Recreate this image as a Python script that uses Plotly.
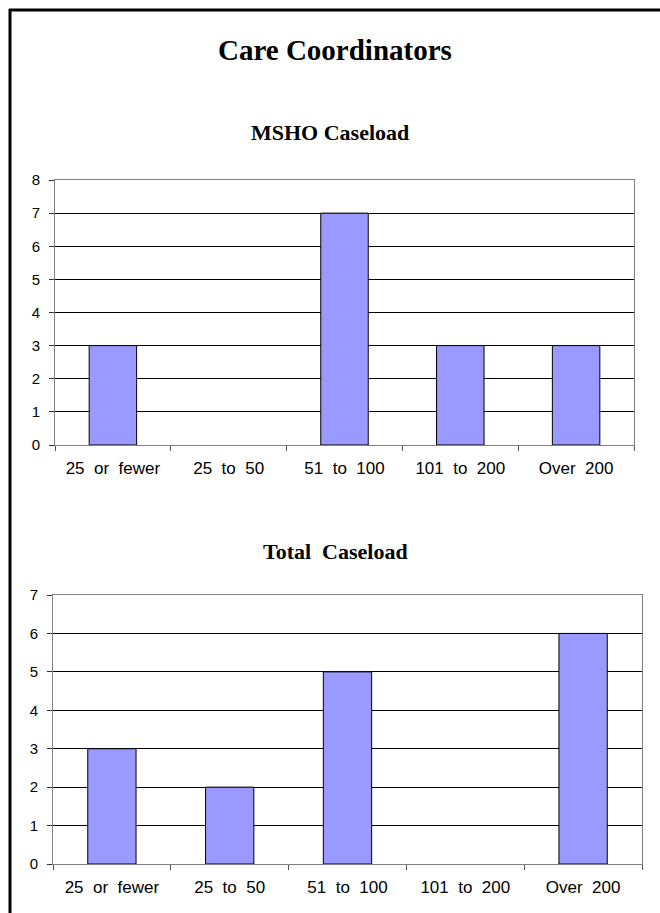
import plotly.graph_objects as go

categories = ["25 or fewer", "25 to 50", "51 to 100", "101 to 200", "Over 200"]
msho_values = [3, 0, 7, 3, 3]
total_values = [3, 2, 5, 0, 6]
msho_ticks = [0, 1, 2, 3, 4, 5, 6, 7, 8]
total_ticks = [0, 1, 2, 3, 4, 5, 6, 7]

W, H = 660, 913
NB = "\u00a0"
cat_labels = [c.replace(" ", NB + " ") for c in categories]

def px_x(p):
    return p / W

def px_y(p):
    return 1 - p / H

def bar_marker(vals):
    return dict(color="#9999FF",
                line=dict(color="#000000", width=[1 if v > 0 else 0 for v in vals]))

fig = go.Figure()
fig.add_trace(go.Bar(x=categories, y=msho_values, xaxis="x", yaxis="y",
                     marker=bar_marker(msho_values), width=0.41, hoverinfo="x+y"))
fig.add_trace(go.Bar(x=categories, y=total_values, xaxis="x2", yaxis="y2",
                     marker=bar_marker(total_values), width=0.41, hoverinfo="x+y"))

xtickfont = dict(family="Liberation Sans, Arial, sans-serif", size=17, color="#000000")
ytickfont = dict(family="Liberation Sans, Arial, sans-serif", size=15, color="#000000")

def xaxis(domain, anchor):
    return dict(domain=domain, anchor=anchor, type="category",
                categoryorder="array", categoryarray=categories,
                tickmode="array", tickvals=categories, ticktext=cat_labels,
                tickson="boundaries", ticks="outside", ticklen=5, tickcolor="#555555",
                showline=True, linecolor="#808080", linewidth=1, mirror=True,
                showgrid=False, tickfont=xtickfont, ticklabelstandoff=8,
                range=[-0.5, 4.5], fixedrange=True, automargin=False)

def yaxis(domain, anchor, rmax, tv):
    return dict(domain=domain, anchor=anchor, range=[0, rmax],
                tickmode="array", tickvals=tv, ticks="outside", ticklen=5,
                tickcolor="#333333", showline=True, linecolor="#808080", linewidth=1,
                mirror=True, showgrid=True, gridcolor="#000000", gridwidth=1,
                zeroline=False, tickfont=ytickfont, ticklabelstandoff=6,
                fixedrange=True, automargin=False)

fig.update_layout(
    width=W, height=H,
    margin=dict(l=0, r=0, t=0, b=0, pad=0, autoexpand=False),
    paper_bgcolor="#FFFFFF", plot_bgcolor="#FFFFFF",
    showlegend=False, bargap=0.59,
    xaxis=xaxis([px_x(55), px_x(634)], "y"),
    yaxis=yaxis([px_y(445), px_y(180)], "x", 8, msho_ticks),
    xaxis2=xaxis([px_x(53), px_x(642)], "y2"),
    yaxis2=yaxis([px_y(864), px_y(595)], "x2", 7, total_ticks),
)

title_font = dict(family="Liberation Serif, Times New Roman, serif", color="#000000")
fig.add_annotation(text="<b>Care Coordinators</b>", x=px_x(335), y=px_y(50),
                   xref="paper", yref="paper", showarrow=False,
                   xanchor="center", yanchor="middle",
                   font=dict(size=29, **title_font))
fig.add_annotation(text="<b>MSHO Caseload</b>", x=px_x(330), y=px_y(132),
                   xref="paper", yref="paper", showarrow=False,
                   xanchor="center", yanchor="middle",
                   font=dict(size=22, **title_font))
fig.add_annotation(text="<b>Total" + NB + " Caseload</b>", x=px_x(336), y=px_y(551),
                   xref="paper", yref="paper", showarrow=False,
                   xanchor="center", yanchor="middle",
                   font=dict(size=22, **title_font))

# page frame (left and top edges, cropped at right and bottom)
fig.add_shape(type="line", xref="paper", yref="paper",
              x0=px_x(10), x1=px_x(10), y0=px_y(9), y1=px_y(H + 5),
              line=dict(color="#000000", width=3))
fig.add_shape(type="line", xref="paper", yref="paper",
              x0=px_x(9), x1=px_x(W + 5), y0=px_y(10), y1=px_y(10),
              line=dict(color="#000000", width=3))

fig.write_html("out.html", config={"displayModeBar": False},
               post_script="document.body.style.margin='0';document.body.style.overflow='hidden';")
